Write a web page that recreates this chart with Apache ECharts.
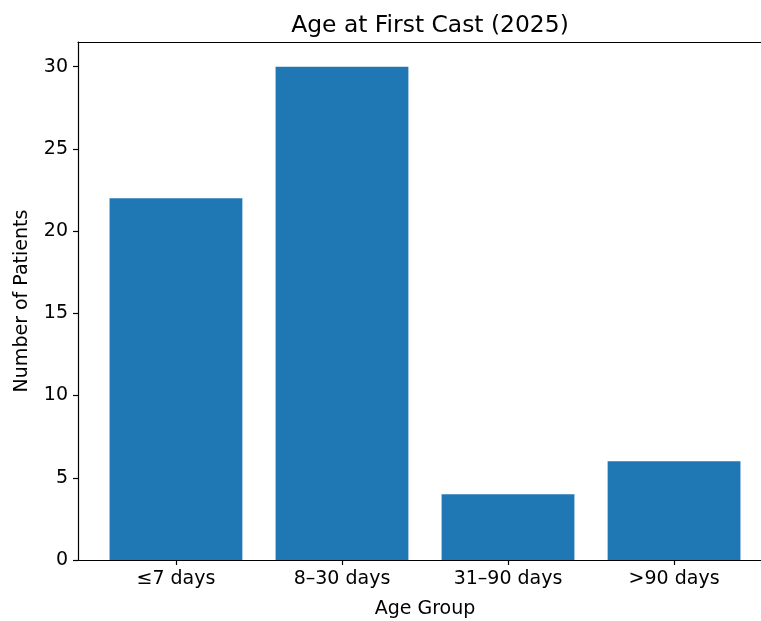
<!DOCTYPE html>
<html>
<head>
<meta charset="utf-8">
<script src="https://cdn.jsdelivr.net/npm/echarts@6/dist/echarts.min.js"></script>
<style>html,body{margin:0;padding:0;background:#fff;overflow:hidden}#c{width:761px;height:621px}</style>
</head>
<body>
<div id="c"></div>
<script>
const categories = ['≤7 days', '8–30 days', '31–90 days', '>90 days'];
const patients = [22, 30, 4, 6];
const yTicks = [0, 5, 10, 15, 20, 25, 30];
const titleText = 'Age at First Cast (2025)';
const xName = 'Age Group';
const yName = 'Number of Patients';

const gridLeft = 78, gridTop = 42, gridWidth = 694, gridHeight = 518;
const xMin = -0.59, xMax = 3.59;
const barPx = gridWidth / (xMax - xMin) * 0.8;
const font = 'DejaVu Sans';

const chart = echarts.init(document.getElementById('c'), null, {renderer: 'canvas'});
chart.setOption({
  animation: false,
  backgroundColor: '#fff',
  title: {
    text: titleText,
    left: gridLeft + gridWidth / 2,
    textAlign: 'center',
    top: 9,
    textStyle: {fontFamily: font, fontSize: 23.4, fontWeight: 'normal', color: '#000'}
  },
  grid: {left: gridLeft, top: gridTop, width: gridWidth, height: gridHeight, outerBoundsMode: 'none', containLabel: false, show: false},
  xAxis: [{
    type: 'value', min: xMin, max: xMax,
    name: xName, nameLocation: 'middle', nameGap: 40,
    nameTextStyle: {fontFamily: font, fontSize: 19, color: '#000'},
    axisLine: {show: true, onZero: false, lineStyle: {color: '#000', width: 1.2}},
    axisTick: {show: true, length: 5, customValues: categories.map((c, i) => i), lineStyle: {color: '#000', width: 1.2}},
    axisLabel: {customValues: categories.map((c, i) => i), formatter: v => categories[Math.round(v)], fontFamily: font, fontSize: 19, color: '#000', margin: 10},
    splitLine: {show: false}
  }, {
    type: 'value', min: xMin, max: xMax, position: 'top',
    axisLine: {show: true, onZero: false, lineStyle: {color: '#000', width: 1.2}},
    axisTick: {show: false}, axisLabel: {show: false}, splitLine: {show: false}
  }],
  yAxis: {
    type: 'value', min: 0, max: 31.5,
    name: yName, nameLocation: 'middle', nameGap: 46,
    nameTextStyle: {fontFamily: font, fontSize: 19, color: '#000'},
    axisLine: {show: true, onZero: false, lineStyle: {color: '#000', width: 1.2}},
    axisTick: {show: true, length: 5, customValues: yTicks, lineStyle: {color: '#000', width: 1.2}},
    axisLabel: {customValues: yTicks, fontFamily: font, fontSize: 19, color: '#000', margin: 10},
    splitLine: {show: false}
  },
  series: [{
    type: 'bar',
    xAxisIndex: 0,
    data: patients.map((v, i) => [i, v]),
    barWidth: barPx,
    itemStyle: {color: '#1f77b4'}
  }]
});
</script>
</body>
</html>
